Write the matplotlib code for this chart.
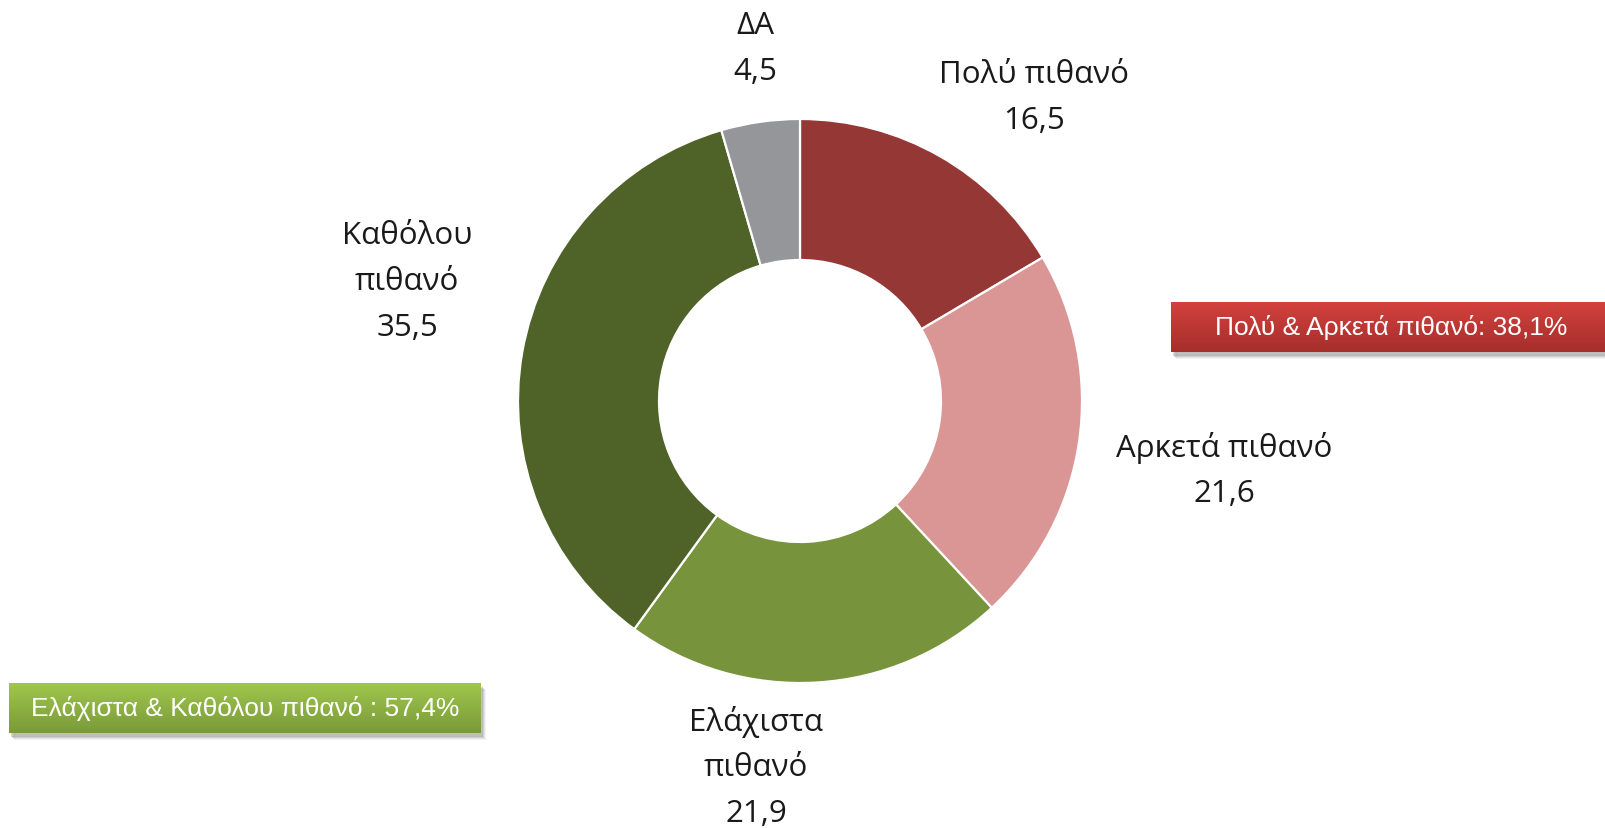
import numpy as np
import matplotlib
matplotlib.use("Agg")
import matplotlib.pyplot as plt
from matplotlib.patches import Rectangle

# Survey answers (percent)
categories = ["Πολύ πιθανό", "Αρκετά πιθανό", "Ελάχιστα πιθανό", "Καθόλου πιθανό", "ΔΑ"]
values = [16.5, 21.6, 21.9, 35.5, 4.5]
colors = ["#953735", "#D99694", "#77933C", "#4F6228", "#95969A"]

# Label text broken into lines as displayed
label_lines = [["Πολύ πιθανό"], ["Αρκετά πιθανό"], ["Ελάχιστα", "πιθανό"],
               ["Καθόλου", "πιθανό"], ["ΔΑ"]]

summary_red = "Πολύ & Αρκετά πιθανό: 38,1%"
summary_green = "Ελάχιστα & Καθόλου πιθανό : 57,4%"

W, H = 1606, 829
fig = plt.figure(figsize=(W / 100, H / 100), dpi=100)
fig.patch.set_facecolor("white")


def px_axes(x, y, w, h):
    return fig.add_axes([x / W, 1 - (y + h) / H, w / W, h / H])


# Donut
cx, cy, R = 800, 402, 282
ax = px_axes(cx - R, cy - R, 2 * R, 2 * R)
ax.pie(values, colors=colors, startangle=90, counterclock=False, radius=1.0,
       wedgeprops=dict(width=0.5, edgecolor="white", linewidth=1.6))
ax.set_xlim(-1, 1)
ax.set_ylim(-1, 1)
ax.set_aspect("equal")
ax.axis("off")

# Data labels (anchor = centre of first line, pixels)
label_pos = [(1034, 75), (1224, 448), (756, 722), (407, 236), (755, 26)]
line_gap = 46
fs = 22.5
for lines, v, (lx, ly) in zip(label_lines, values, label_pos):
    texts = lines + [f"{v:.1f}".replace(".", ",")]
    for i, t in enumerate(texts):
        fig.text(lx / W, 1 - (ly + i * line_gap) / H, t, ha="center", va="center",
                 fontsize=fs, family="Open Sans", color="#1a1a1a")


def grad_box(x, y, w, h, top, bottom, text):
    # soft drop shadow
    for k, a in enumerate([0.10, 0.08, 0.06, 0.04]):
        sh = px_axes(x + 2 + k, y + 4 + k, w, h)
        sh.add_patch(Rectangle((0, 0), 1, 1, color="black", alpha=a))
        sh.set_xlim(0, 1); sh.set_ylim(0, 1); sh.axis("off")
    bx = px_axes(x, y, w, h)
    c1 = np.array(matplotlib.colors.to_rgb(top))
    c2 = np.array(matplotlib.colors.to_rgb(bottom))
    t = np.linspace(0, 1, 64)[:, None]
    img = (c1 * (1 - t) + c2 * t)[:, None, :]
    bx.imshow(np.repeat(img, 2, axis=1), aspect="auto", extent=(0, 1, 0, 1),
              interpolation="bilinear")
    bx.set_xlim(0, 1); bx.set_ylim(0, 1); bx.axis("off")
    bx.text(0.5, 0.5, text, ha="center", va="center", color="white",
            fontsize=19, family="Liberation Sans", transform=bx.transAxes)


grad_box(1171, 303, 440, 50, "#D4423E", "#A52E2B", summary_red)
grad_box(9, 684, 472, 50, "#A0C64C", "#7A9A3A", summary_green)

fig.savefig("out.png", dpi=100, facecolor="white")
